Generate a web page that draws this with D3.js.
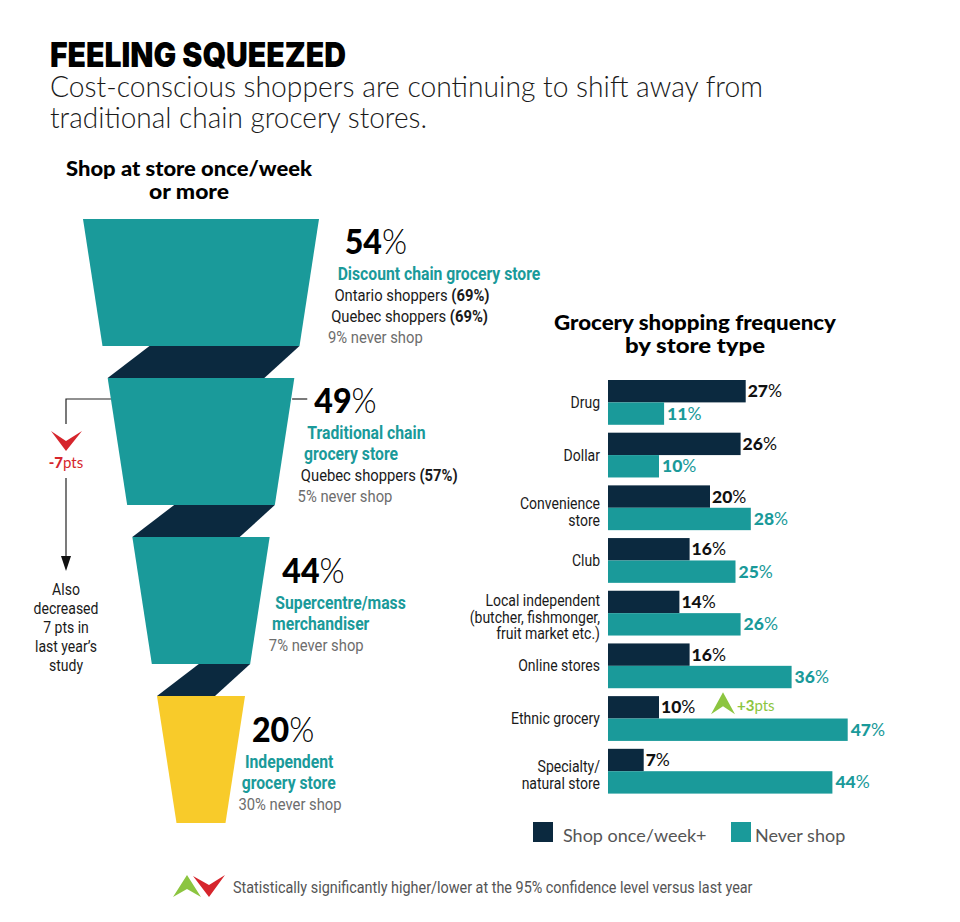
<!DOCTYPE html>
<html><head><meta charset="utf-8">
<script src="https://cdn.jsdelivr.net/npm/d3@7"></script>
<style>body{margin:0;background:#fff}svg{display:block}</style>
</head><body>
<script>
// ---------------- DATA ----------------
const funnelStores = ["Discount chain grocery store","Traditional chain grocery store","Supercentre/mass merchandiser","Independent grocery store"];
const funnelNameLines = [["Discount chain grocery store"],["Traditional chain","grocery store"],["Supercentre/mass","merchandiser"],["Independent","grocery store"]];
const funnelWeekly = [54,49,44,20];
const funnelNever = [9,5,7,30];
const regionalNotes = [[["Ontario shoppers",69],["Quebec shoppers",69]],[["Quebec shoppers",57]],[],[]];
const funnelChange = ["","-7pts","",""];
const changeNote = ["Also","decreased","7 pts in","last year\u2019s","study"];

const barCategories = ["Drug","Dollar","Convenience store","Club","Local independent (butcher, fishmonger, fruit market etc.)","Online stores","Ethnic grocery","Specialty/natural store"];
const barCategoryLines = [["Drug"],["Dollar"],["Convenience","store"],["Club"],["Local independent","(butcher, fishmonger,","fruit market etc.)"],["Online stores"],["Ethnic grocery"],["Specialty/","natural store"]];
const weeklyValues = [27,26,20,16,14,16,10,7];
const neverValues  = [11,10,28,25,26,36,47,44];
const weeklyChange = ["","","","","","","+3pts",""];
const legendLabels = ["Shop once/week+","Never shop"];

// ---------------- STYLE ----------------
const NAVY="#0b293f", TEAL="#1a9a9a", YELLOW="#f8cb2a", RED="#d6252c", GREEN="#8cc540";
const COND="Roboto, 'Liberation Sans', sans-serif";
const GEO="Lato, 'Open Sans', sans-serif";
const SX=0.85;

const svg = d3.select("body").append("svg").attr("width",960).attr("height",922);

function ctext(parent, x, y, o={}) {
  const g = parent.append("g").attr("transform",`translate(${x},${y}) scale(${o.sx ?? SX},1)`);
  return g.append("text").attr("text-anchor", o.anchor||"start")
    .attr("font-family", o.family||COND).attr("font-size", o.size||16)
    .attr("font-weight", o.weight||400).attr("fill", o.fill||"#1a1a1a");
}
function parts(t, arr){ arr.forEach(p=>{ const s=t.append("tspan").text(p.t); if(p.w) s.attr("font-weight",p.w); if(p.f) s.attr("fill",p.f); if(p.fam) s.attr("font-family",p.fam);}); return t; }

// ---------------- TITLE ----------------
svg.append("text").attr("x",50).attr("y",67).attr("font-family","Inter, 'DejaVu Sans', sans-serif")
  .attr("font-weight",900).attr("font-size",34).attr("fill","#000")
  .attr("textLength",296).attr("lengthAdjust","spacingAndGlyphs").text("FEELING SQUEEZED");
svg.append("text").attr("x",50).attr("y",97).attr("font-family",GEO).attr("font-weight",300)
  .attr("font-size",29).attr("fill","#1a1a1a").attr("textLength",713).attr("lengthAdjust","spacingAndGlyphs")
  .text("Cost-conscious shoppers are continuing to shift away from");
svg.append("text").attr("x",50).attr("y",128).attr("font-family",GEO).attr("font-weight",300)
  .attr("font-size",29).attr("fill","#1a1a1a").attr("textLength",377).attr("lengthAdjust","spacingAndGlyphs")
  .text("traditional chain grocery stores.");

// ---------------- FUNNEL ----------------
const fun = svg.append("g");
[["Shop at store once/week",246],["or more",80]].forEach((l,i)=>{
  fun.append("text").attr("x",189).attr("y",176+i*23).attr("text-anchor","middle")
    .attr("font-family",GEO).attr("font-weight",900).attr("font-size",20.5).attr("fill","#000")
    .attr("textLength",l[1]).attr("lengthAdjust","spacingAndGlyphs").text(l[0]);
});
const CX=201, TH=127, TAPER=39;
const fy = d3.scalePoint().domain(funnelStores).range([219,696]);
const fw = d3.scaleLinear().domain([0,funnelStores.length-1]).range([236,88]);
const fcol = d3.scaleOrdinal().domain(funnelStores).range([TEAL,TEAL,TEAL,YELLOW]);

// navy folds
funnelStores.slice(0,-1).forEach((s,i)=>{
  const y1 = fy(s)+TH, y2 = fy(funnelStores[i+1]);
  const wb = fw(i)-TAPER, wn = fw(i+1);
  const trX = CX+wb/2, tlX = trX-(fw(i)-86);
  const blX = CX-wn/2, brX = blX+wn-30;
  fun.append("path").attr("fill",NAVY)
    .attr("d",`M${tlX},${y1}L${trX},${y1}L${brX},${y2}L${blX},${y2}Z`);
});
// trapezoids
funnelStores.forEach((s,i)=>{
  const y=fy(s), wt=fw(i), wb=wt-TAPER;
  fun.append("path").attr("fill",fcol(s))
    .attr("d",`M${CX-wt/2},${y}L${CX+wt/2},${y}L${CX+wb/2},${y+TH}L${CX-wb/2},${y+TH}Z`);
});
// labels
funnelStores.forEach((s,i)=>{
  const y=fy(s), wt=fw(i);
  const rx = yy => CX+wt/2-(TAPER/2)*(yy-y)/TH;
  const lx = yy => rx(yy)+28-5.7*i;
  const n = funnelNameLines[i].length + regionalNotes[i].length + 1;
  const span = 26+26+21*(n-1);
  const top = y+TH/2+3-span/2;
  const bigY = top+26;
  const t = ctext(fun, lx(bigY)+3, bigY, {family:GEO, size:35, sx:0.92, fill:"#000"});
  parts(t,[{t:String(funnelWeekly[i]),w:900},{t:"%",w:300}]);
  let yy = bigY+26;
  funnelNameLines[i].forEach(l=>{
    ctext(fun, lx(yy), yy, {size:17.5, sx:0.9, weight:700, fill:TEAL}).text(l); yy+=21;
  });
  regionalNotes[i].forEach(r=>{
    parts(ctext(fun, lx(yy), yy, {size:17, sx:0.87}), [{t:r[0]+" "},{t:`(${r[1]}%)`,w:700}]); yy+=21;
  });
  ctext(fun, lx(yy), yy, {size:17, sx:0.87, fill:"#6d6d6d"}).text(`${funnelNever[i]}% never shop`);

  if (funnelChange[i]) {
    const ly = bigY-14;
    fun.append("line").attr("x1",rx(ly)+1).attr("x2",lx(bigY)-4).attr("y1",ly).attr("y2",ly).attr("stroke","#222").attr("stroke-width",1.2);
    const leftX = CX-wt/2+(TAPER/2)*(ly-y)/TH;
    const AX = 66;
    fun.append("path").attr("fill","none").attr("stroke","#222").attr("stroke-width",1.2)
      .attr("d",`M${leftX},${ly}H${AX}V${ly+25}`);
    fun.append("path").attr("fill",RED)
      .attr("d",`M${AX-15},${ly+32}L${AX},${ly+42}L${AX+16},${ly+32}L${AX},${ly+52}Z`);
    parts(ctext(fun, AX, ly+69, {anchor:"middle", size:15, family:GEO, sx:1, fill:RED}),
      [{t:funnelChange[i].replace("pts",""),w:900},{t:"pts",w:400}]);
    fun.append("line").attr("x1",AX).attr("x2",AX).attr("y1",ly+79).attr("y2",ly+160).attr("stroke","#222").attr("stroke-width",1.2);
    fun.append("path").attr("fill","#111").attr("d",`M${AX-5},${ly+157}L${AX+5},${ly+157}L${AX},${ly+172}Z`);
    changeNote.forEach((l,k)=>{
      ctext(fun, AX, ly+196+k*19, {anchor:"middle", size:16.5}).text(l);
    });
  }
});

// ---------------- BAR CHART ----------------
const bc = svg.append("g");
[["Grocery shopping frequency",282],["by store type",140]].forEach((l,i)=>{
  bc.append("text").attr("x",695).attr("y",330+i*23).attr("text-anchor","middle")
    .attr("font-family",GEO).attr("font-weight",900).attr("font-size",20.5).attr("fill","#000")
    .attr("textLength",l[1]).attr("lengthAdjust","spacingAndGlyphs").text(l[0]);
});
const x = d3.scaleLinear().domain([0,50]).range([608,863]);
const y = d3.scaleBand().domain(barCategories).range([380,793.6]).paddingInner(0.15).paddingOuter(0);
const half = y.bandwidth()/2;

bc.selectAll("rect.wk").data(barCategories).join("rect").attr("class","wk")
  .attr("x",x(0)).attr("y",d=>y(d)).attr("height",half)
  .attr("width",(d,i)=>x(weeklyValues[i])-x(0)).attr("fill",NAVY);
bc.selectAll("rect.nv").data(barCategories).join("rect").attr("class","nv")
  .attr("x",x(0)).attr("y",d=>y(d)+half).attr("height",half)
  .attr("width",(d,i)=>x(neverValues[i])-x(0)).attr("fill",TEAL);

barCategories.forEach((c,i)=>{
  const t1 = ctext(bc, x(weeklyValues[i])+2, y(c)+half/2+6, {family:GEO, size:17.5, sx:1, fill:"#111"});
  parts(t1,[{t:String(weeklyValues[i]),w:900},{t:"%",w:400}]);
  const t2 = ctext(bc, x(neverValues[i])+3, y(c)+half*1.5+6, {family:GEO, size:17.5, sx:1, fill:TEAL});
  parts(t2,[{t:String(neverValues[i]),w:900},{t:"%",w:400}]);
  const lines = barCategoryLines[i], n = lines.length;
  const cy = y(c)+y.bandwidth()/2 + (n>1?4:0);
  lines.forEach((l,j)=>{
    ctext(bc, 600, cy+5.5+(j-(n-1)/2)*16.5, {anchor:"end", size:16.5, fill:"#1a1a1a"}).text(l);
  });
  if (weeklyChange[i]) {
    const gx = x(weeklyValues[i])+52, gy = y(c);
    bc.append("path").attr("fill",GREEN)
      .attr("d",`M${gx},${gy+18}L${gx+12},${gy-4}L${gx+24},${gy+18}L${gx+12},${gy+10}Z`);
    parts(ctext(bc, gx+26, gy+15, {family:GEO, size:15, sx:1, fill:GREEN}),
      [{t:weeklyChange[i].replace("pts",""),w:700},{t:"pts",w:400}]);
  }
});

// legend
const legCol = [NAVY,TEAL], legX=[533,731];
legendLabels.forEach((l,i)=>{
  bc.append("rect").attr("x",legX[i]).attr("y",822).attr("width",20).attr("height",20).attr("fill",legCol[i]);
  bc.append("text").attr("x",legX[i]+(i?24:30)).attr("y",842).attr("font-family",GEO).attr("font-size",18)
    .attr("fill","#555").text(l);
});

// footnote
svg.append("path").attr("fill",GREEN).attr("d","M173,897L187,875L201,897L187,889Z");
svg.append("path").attr("fill",RED).attr("d","M193,876L209,885L225,875L209,897Z");
ctext(svg, 233, 893, {size:16, sx:0.9, fill:"#555"}).text("Statistically significantly higher/lower at the 95% confidence level versus last year");
</script>
</body></html>
